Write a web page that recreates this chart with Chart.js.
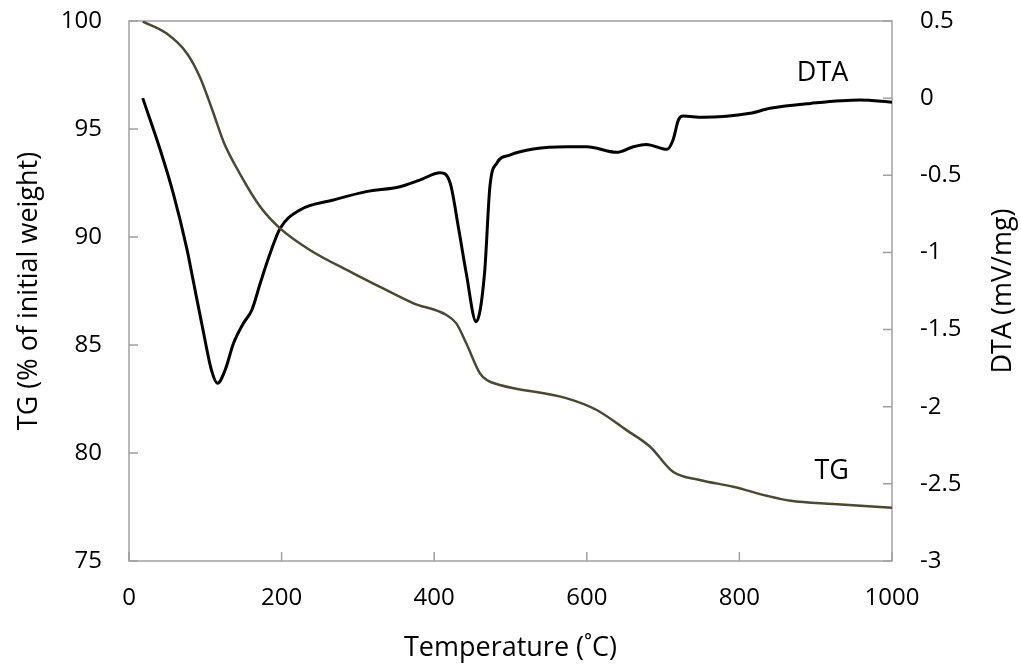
<!DOCTYPE html>
<html>
<head>
<meta charset="utf-8">
<script src="https://cdn.jsdelivr.net/npm/chart.js@4/dist/chart.umd.min.js"></script>
<style>
  html, body { margin: 0; padding: 0; background: #fff; }
  canvas { display: block; }
</style>
</head>
<body>
<canvas id="chart" width="1021" height="665"></canvas>
<script>
// TG curve (% of initial weight)
const tgTemp = [18, 49, 76, 93, 110, 124, 145, 172, 198, 237, 294, 333, 373, 416, 429, 442, 460, 469, 486, 574, 613, 652, 683, 713, 748, 792, 836, 867, 923, 1000];
const tgValues = [99.97, 99.43, 98.5, 97.4, 95.8, 94.4, 92.95, 91.4, 90.4, 89.4, 88.32, 87.62, 86.93, 86.39, 86.0, 85.08, 83.69, 83.38, 83.15, 82.53, 81.99, 81.06, 80.29, 79.13, 78.75, 78.44, 78.02, 77.79, 77.64, 77.47];

// DTA curve (mV/mg)
const dtaTemp = [18, 41, 58, 76, 84, 97, 108, 116, 126, 137, 150, 161, 172, 185, 198, 224, 268, 311, 355, 381, 408, 421, 432, 442, 455, 466, 473, 482, 499, 530, 574, 600, 639, 661, 678, 705, 713, 720, 726, 752, 814, 840, 893, 958, 1000];
const dtaValues = [0.0, -0.336, -0.617, -0.98, -1.179, -1.503, -1.762, -1.848, -1.762, -1.589, -1.459, -1.373, -1.2, -1.006, -0.845, -0.725, -0.66, -0.606, -0.574, -0.531, -0.483, -0.552, -0.845, -1.135, -1.449, -1.135, -0.574, -0.422, -0.369, -0.33, -0.315, -0.315, -0.351, -0.315, -0.3, -0.332, -0.271, -0.142, -0.116, -0.124, -0.098, -0.066, -0.034, -0.012, -0.027];

// axis ranges
const xTicks = [0, 200, 400, 600, 800, 1000];
const tgRange = [75, 100];
const dtaRange = [-3, 0.5];

const FONT = '"Open Sans", sans-serif';
const AXIS_COLOR = '#a0a0a0';

const toPoints = (xs, ys) => xs.map((x, i) => ({ x: x, y: ys[i] }));
const plainNumber = v => String(+Number(v).toFixed(1));

// box, inward tick marks, titles and curve labels
const framePlugin = {
    id: 'frame',
    beforeDatasetsDraw(chart) {
        const { ctx, chartArea: a, scales } = chart;
        ctx.save();
        ctx.strokeStyle = AXIS_COLOR;
        ctx.lineWidth = 1.5;
        ctx.strokeRect(a.left, a.top, a.right - a.left, a.bottom - a.top);
        ctx.beginPath();
        scales.x.ticks.forEach(t => {
            const px = scales.x.getPixelForValue(t.value);
            ctx.moveTo(px, a.bottom);
            ctx.lineTo(px, a.bottom - 9);
        });
        scales.y.ticks.forEach(t => {
            const py = scales.y.getPixelForValue(t.value);
            ctx.moveTo(a.left, py);
            ctx.lineTo(a.left + 9, py);
        });
        scales.y1.ticks.forEach(t => {
            const py = scales.y1.getPixelForValue(t.value);
            ctx.moveTo(a.right, py);
            ctx.lineTo(a.right - 9, py);
        });
        ctx.stroke();
        ctx.restore();
    },
    afterDraw(chart) {
        const { ctx, chartArea: a, scales } = chart;
        const midY = (a.top + a.bottom) / 2;
        ctx.save();
        ctx.fillStyle = '#000';
        ctx.font = '27px ' + FONT;
        ctx.textAlign = 'center';
        ctx.textBaseline = 'middle';
        ctx.fillText('Temperature (˚C)', (a.left + a.right) / 2, 648);

        ctx.save();
        ctx.translate(29, midY);
        ctx.rotate(-Math.PI / 2);
        ctx.fillText('TG (% of initial weight)', 0, 0);
        ctx.restore();

        ctx.save();
        ctx.translate(1003, midY);
        ctx.rotate(-Math.PI / 2);
        ctx.fillText('DTA (mV/mg)', 0, 0);
        ctx.restore();

        ctx.fillText('DTA', scales.x.getPixelForValue(909), scales.y1.getPixelForValue(0.163));
        ctx.fillText('TG', scales.x.getPixelForValue(921), scales.y.getPixelForValue(79.17));
        ctx.restore();
    }
};

const fitSide = s => {
    s.width = 129;
    s.paddingTop = 0;
    s.paddingBottom = 0;
};

new Chart(document.getElementById('chart'), {
    type: 'line',
    data: {
        datasets: [
            {
                label: 'TG',
                data: toPoints(tgTemp, tgValues),
                yAxisID: 'y',
                borderColor: '#4b4833',
                borderWidth: 2.5,
                pointRadius: 0,
                cubicInterpolationMode: 'monotone'
            },
            {
                label: 'DTA',
                data: toPoints(dtaTemp, dtaValues),
                yAxisID: 'y1',
                borderColor: '#000000',
                borderWidth: 3,
                pointRadius: 0,
                cubicInterpolationMode: 'monotone'
            }
        ]
    },
    options: {
        responsive: false,
        animation: false,
        layout: { padding: { top: 21, left: 0, right: 0, bottom: 0 } },
        plugins: {
            legend: { display: false },
            tooltip: { enabled: false }
        },
        scales: {
            x: {
                type: 'linear',
                min: xTicks[0],
                max: xTicks[xTicks.length - 1],
                afterBuildTicks: s => { s.ticks = xTicks.map(v => ({ value: v })); },
                afterFit: s => { s.height = 104; },
                grid: { display: false, drawTicks: false },
                border: { display: false },
                ticks: { color: '#000', padding: 23, callback: plainNumber, font: { family: FONT, size: 24 } }
            },
            y: {
                position: 'left',
                min: tgRange[0],
                max: tgRange[1],
                afterFit: fitSide,
                grid: { display: false, drawTicks: false },
                border: { display: false },
                ticks: { stepSize: 5, color: '#000', padding: 27, callback: plainNumber, font: { family: FONT, size: 24 } }
            },
            y1: {
                position: 'right',
                min: dtaRange[0],
                max: dtaRange[1],
                afterFit: fitSide,
                grid: { display: false, drawTicks: false },
                border: { display: false },
                ticks: { stepSize: 0.5, color: '#000', padding: 28, callback: plainNumber, font: { family: FONT, size: 24 } }
            }
        }
    },
    plugins: [framePlugin]
});
</script>
</body>
</html>
